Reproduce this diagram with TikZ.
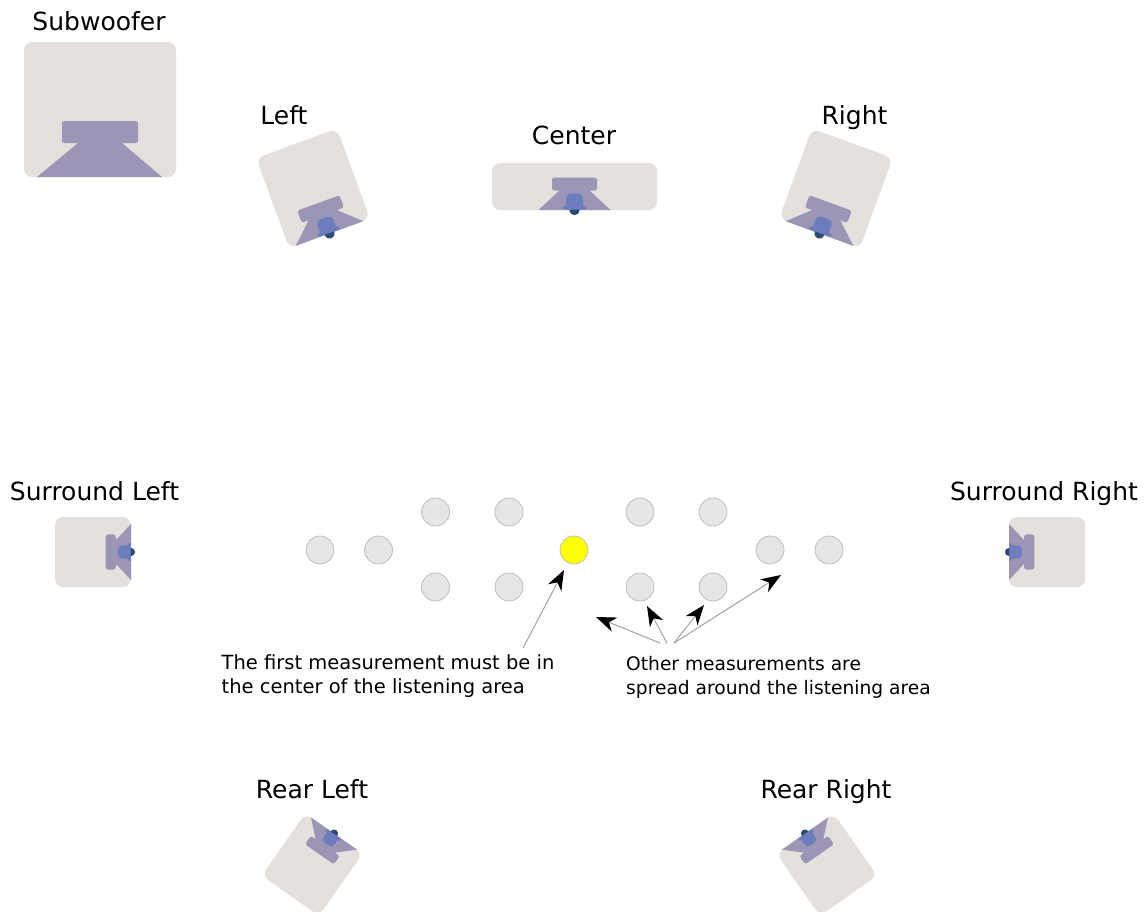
\documentclass[tikz,border=0pt]{standalone}
\usepackage{fontspec}
\setmainfont{DejaVu Sans}
\usetikzlibrary{arrows.meta}
\definecolor{boxc}{HTML}{E3E0DD}
\definecolor{hornc}{HTML}{9B95B6}
\definecolor{headc}{HTML}{6C7DBD}
\definecolor{dotc}{HTML}{2B4A75}
\definecolor{spotc}{HTML}{E6E6E6}
\definecolor{spotl}{HTML}{BDBDBD}
\definecolor{shaftc}{HTML}{A8A8A8}
\definecolor{firstc}{HTML}{FFFF00}
\tikzset{
 x=1pt,y=1pt,
 title/.style={font=\fontsize{25}{29}\selectfont,text=black,inner sep=0pt,anchor=base},
 note/.style={font=\fontsize{19.5}{24.2}\selectfont,text=black,inner sep=0pt,align=left,anchor=north west},
 notetwo/.style={note,font=\fontsize{18.65}{24.2}\selectfont},
 spot/.style={circle,minimum size=28pt,inner sep=0pt,draw=spotl,line width=.8pt,fill=spotc},
 first/.style={spot,fill=firstc},
 leader/.style={draw=shaftc,line width=1.1pt,-{Stealth[length=20pt,width=15pt,inset=6pt,fill=black,color=black]}},
 cabinet/.style={fill=boxc,draw=none,rounded corners=8pt},
 hornpart/.style={fill=hornc,draw=none},
 magnet/.style={fill=hornc,draw=none,rounded corners=2.5pt},
}
% #1 x, #2 y (screen px), #3 angle, #4 half width, #5 depth, #6 inner scale
\newcommand{\loudspeaker}[6]{%
 \begin{scope}[shift={(#1,-#2)},rotate=#3]
  \fill[cabinet] (-#4,0) rectangle (#4,#5);
  \begin{scope}[x=#6pt,y=#6pt]
   \fill[hornpart] (-36,0) -- (36,0) -- (14.5,20) -- (-14.5,20) -- cycle;
   \fill[magnet] (-22.5,19.5) rectangle (22.5,32.5);
   \fill[dotc] (0,0) circle[radius=5.2];
   \fill[headc,rounded corners=3pt] (-8.5,1) -- (8.5,1) -- (8.5,13) -- (6,16.5) -- (-6,16.5) -- (-8.5,13) -- cycle;
   \fill[headc,rounded corners=1pt] (-11.5,0.5) rectangle (11.5,4);
  \end{scope}
 \end{scope}}
\begin{document}
\begin{tikzpicture}
\useasboundingbox (0,-911) rectangle (1144,0);
\begin{scope}
 \clip (0,-911) rectangle (1144,0);
 % subwoofer
 \fill[cabinet] (24,-177) rectangle (176,-42);
 \fill[hornpart] (37,-177) -- (162,-177) -- (122,-143) -- (78,-143) -- cycle;
 \fill[magnet] (62,-143) rectangle (138,-121);
 \loudspeaker{329.5}{233.5}{20}{43}{96}{1}
 \loudspeaker{819.5}{233.5}{-20}{43}{96}{1}
 \loudspeaker{574.5}{210}{0}{82.5}{47}{1}
 \loudspeaker{131}{552}{90}{35}{76}{0.78}
 \loudspeaker{1009}{552}{-90}{35}{76}{0.78}
 \loudspeaker{334}{833.5}{145}{35}{76}{0.78}
 \loudspeaker{805}{833.5}{-145}{35}{76}{0.78}
\end{scope}
\node[title] (tsub) at (99,-30) {Subwoofer};
\node[title] (tleft) at (284,-124) {Left};
\node[title] (tcenter) at (574,-144) {Center};
\node[title] (tright) at (854.5,-124) {Right};
\node[title] (tsl) at (94.5,-500) {Surround Left};
\node[title] (tsr) at (1044,-500) {Surround Right};
\node[title] (trl) at (312,-798) {Rear Left};
\node[title] (trr) at (826,-798) {Rear Right};
\node[spot] (m1) at (320,-550) {};
\node[spot] (m2) at (378.5,-550) {};
\node[spot] (m3) at (435.5,-512) {};
\node[spot] (m4) at (509,-512) {};
\node[spot] (m5) at (435.5,-587) {};
\node[spot] (m6) at (509,-587) {};
\node[first] (m0) at (574,-550) {};
\node[spot] (m7) at (640,-512) {};
\node[spot] (m8) at (713,-512) {};
\node[spot] (m9) at (640,-587) {};
\node[spot] (m10) at (713,-587) {};
\node[spot] (m11) at (770,-550) {};
\node[spot] (m12) at (829,-550) {};
\node[note] (nfirst) at (221.5,-654) {The first measurement must be in\\the center of the listening area};
\node[notetwo] (nother) at (626,-656) {Other measurements are\\spread around the listening area};
\coordinate (a0) at (523,-648);
\coordinate (b0) at (564,-570);
\coordinate (a1) at (660,-643);
\coordinate (b1) at (596,-617);
\coordinate (a2) at (667,-643);
\coordinate (b2) at (647,-606);
\coordinate (a3) at (674,-643);
\coordinate (b3) at (704,-605);
\coordinate (b4) at (781,-575);
\draw[leader] (a0) -- (b0);
\draw[leader] (a1) -- (b1);
\draw[leader] (a2) -- (b2);
\draw[leader] (a3) -- (b3);
\draw[leader] (a3) -- (b4);
\end{tikzpicture}
\end{document}
